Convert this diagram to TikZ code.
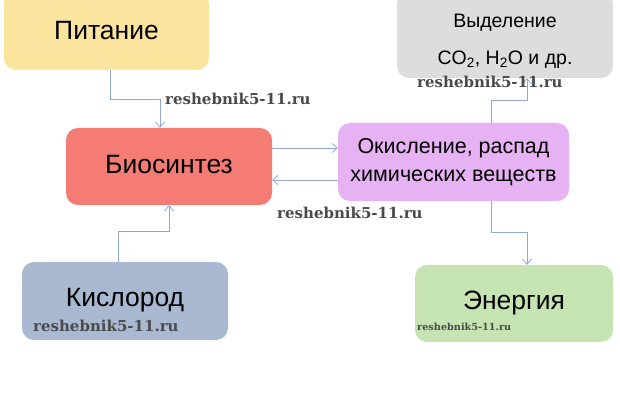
\documentclass[tikz,border=0pt]{standalone}
\usepackage{fontspec}
\setmainfont{Liberation Sans}
\newfontfamily\wmfont{DejaVu Serif}
\usetikzlibrary{arrows.meta}
\definecolor{cpit}{HTML}{FBE49E}
\definecolor{cbio}{HTML}{F57C74}
\definecolor{cox}{HTML}{E6B2F3}
\definecolor{cvyd}{HTML}{DDDDDD}
\definecolor{ckis}{HTML}{A9B9D1}
\definecolor{cen}{HTML}{C6E4B1}
\definecolor{carr}{HTML}{8EA7D8}
\definecolor{cwm}{HTML}{4A4A4A}
\tikzset{
  box/.style={rounded corners=12pt, inner sep=0pt, align=center, text=black},
  big/.style={font=\fontsize{26.5}{30}\selectfont},
  arr/.style={draw=carr, line width=0.8pt, -{Straight Barb[length=5pt,width=9pt,line width=0.8pt]}},
  wm/.style={font=\wmfont\bfseries\fontsize{15}{15}\selectfont, text=cwm, inner sep=0pt},
  wmsmall/.style={font=\wmfont\bfseries\fontsize{9.7}{10}\selectfont, text=cwm, inner sep=0pt},
}
\begin{document}
\begin{tikzpicture}[x=1pt,y=-1pt]
\useasboundingbox (0,0) rectangle (620,403);
\fill[white] (0,0) rectangle (620,403);
\node[box, big, fill=cpit, minimum width=205pt, minimum height=78pt] (pit) at (106.5,31) {Питание};
\node[box, big, fill=cbio, minimum width=206pt, minimum height=77pt] (bio) at (169,166.5) {\raisebox{4pt}{Биосинтез}};
\node[box, fill=cvyd, minimum width=216pt, minimum height=86pt] (vyd) at (505,35) {};
\node[align=center, inner sep=0pt, font=\fontsize{19.5}{37}\selectfont] (vydt) at (505,41) {Выделение\\CO\textsubscript{2}, H\textsubscript{2}O и др.};
\node[box, fill=cox, minimum width=231pt, minimum height=78pt, font=\fontsize{21.5}{28.5}\selectfont] (ox) at (453.5,162) {Окисление, распад\\химических веществ};
\node[box, big, fill=ckis, minimum width=206pt, minimum height=78pt] (kis) at (125,301) {\raisebox{7pt}{Кислород}};
\node[box, big, fill=cen, minimum width=198pt, minimum height=77pt] (en) at (514,303.5) {\raisebox{7pt}{Энергия}};
\draw[arr] ([xshift=3.5]pit.south) -- ++(0,29) -| ([xshift=-9]bio.north);
\draw[arr] (bio.east |- {(0,148)}) -- (ox.west |- {(0,148)});
\draw[arr] (ox.west |- {(0,180)}) -- (bio.east |- {(0,180)});
\draw[arr] ([xshift=37.5]ox.north) -- ++(0,-22) -| ([xshift=22]vyd.south);
\draw[arr] ([xshift=37.5]ox.south) -- ++(0,31) -| ([xshift=13]en.north);
\draw[arr] ([xshift=-7]kis.north) -- ++(0,-30) -| (bio.south);
\node[wm, anchor=west] (w1) at (165,99) {reshebnik5-11.ru};
\node[wm, anchor=west] (w2) at (417,82) {reshebnik5-11.ru};
\node[wm, anchor=west] (w3) at (277,213) {reshebnik5-11.ru};
\node[wm, anchor=west] (w4) at (33,326) {reshebnik5-11.ru};
\node[wmsmall, anchor=west] (w5) at (417,327) {reshebnik5-11.ru};
\end{tikzpicture}
\end{document}
